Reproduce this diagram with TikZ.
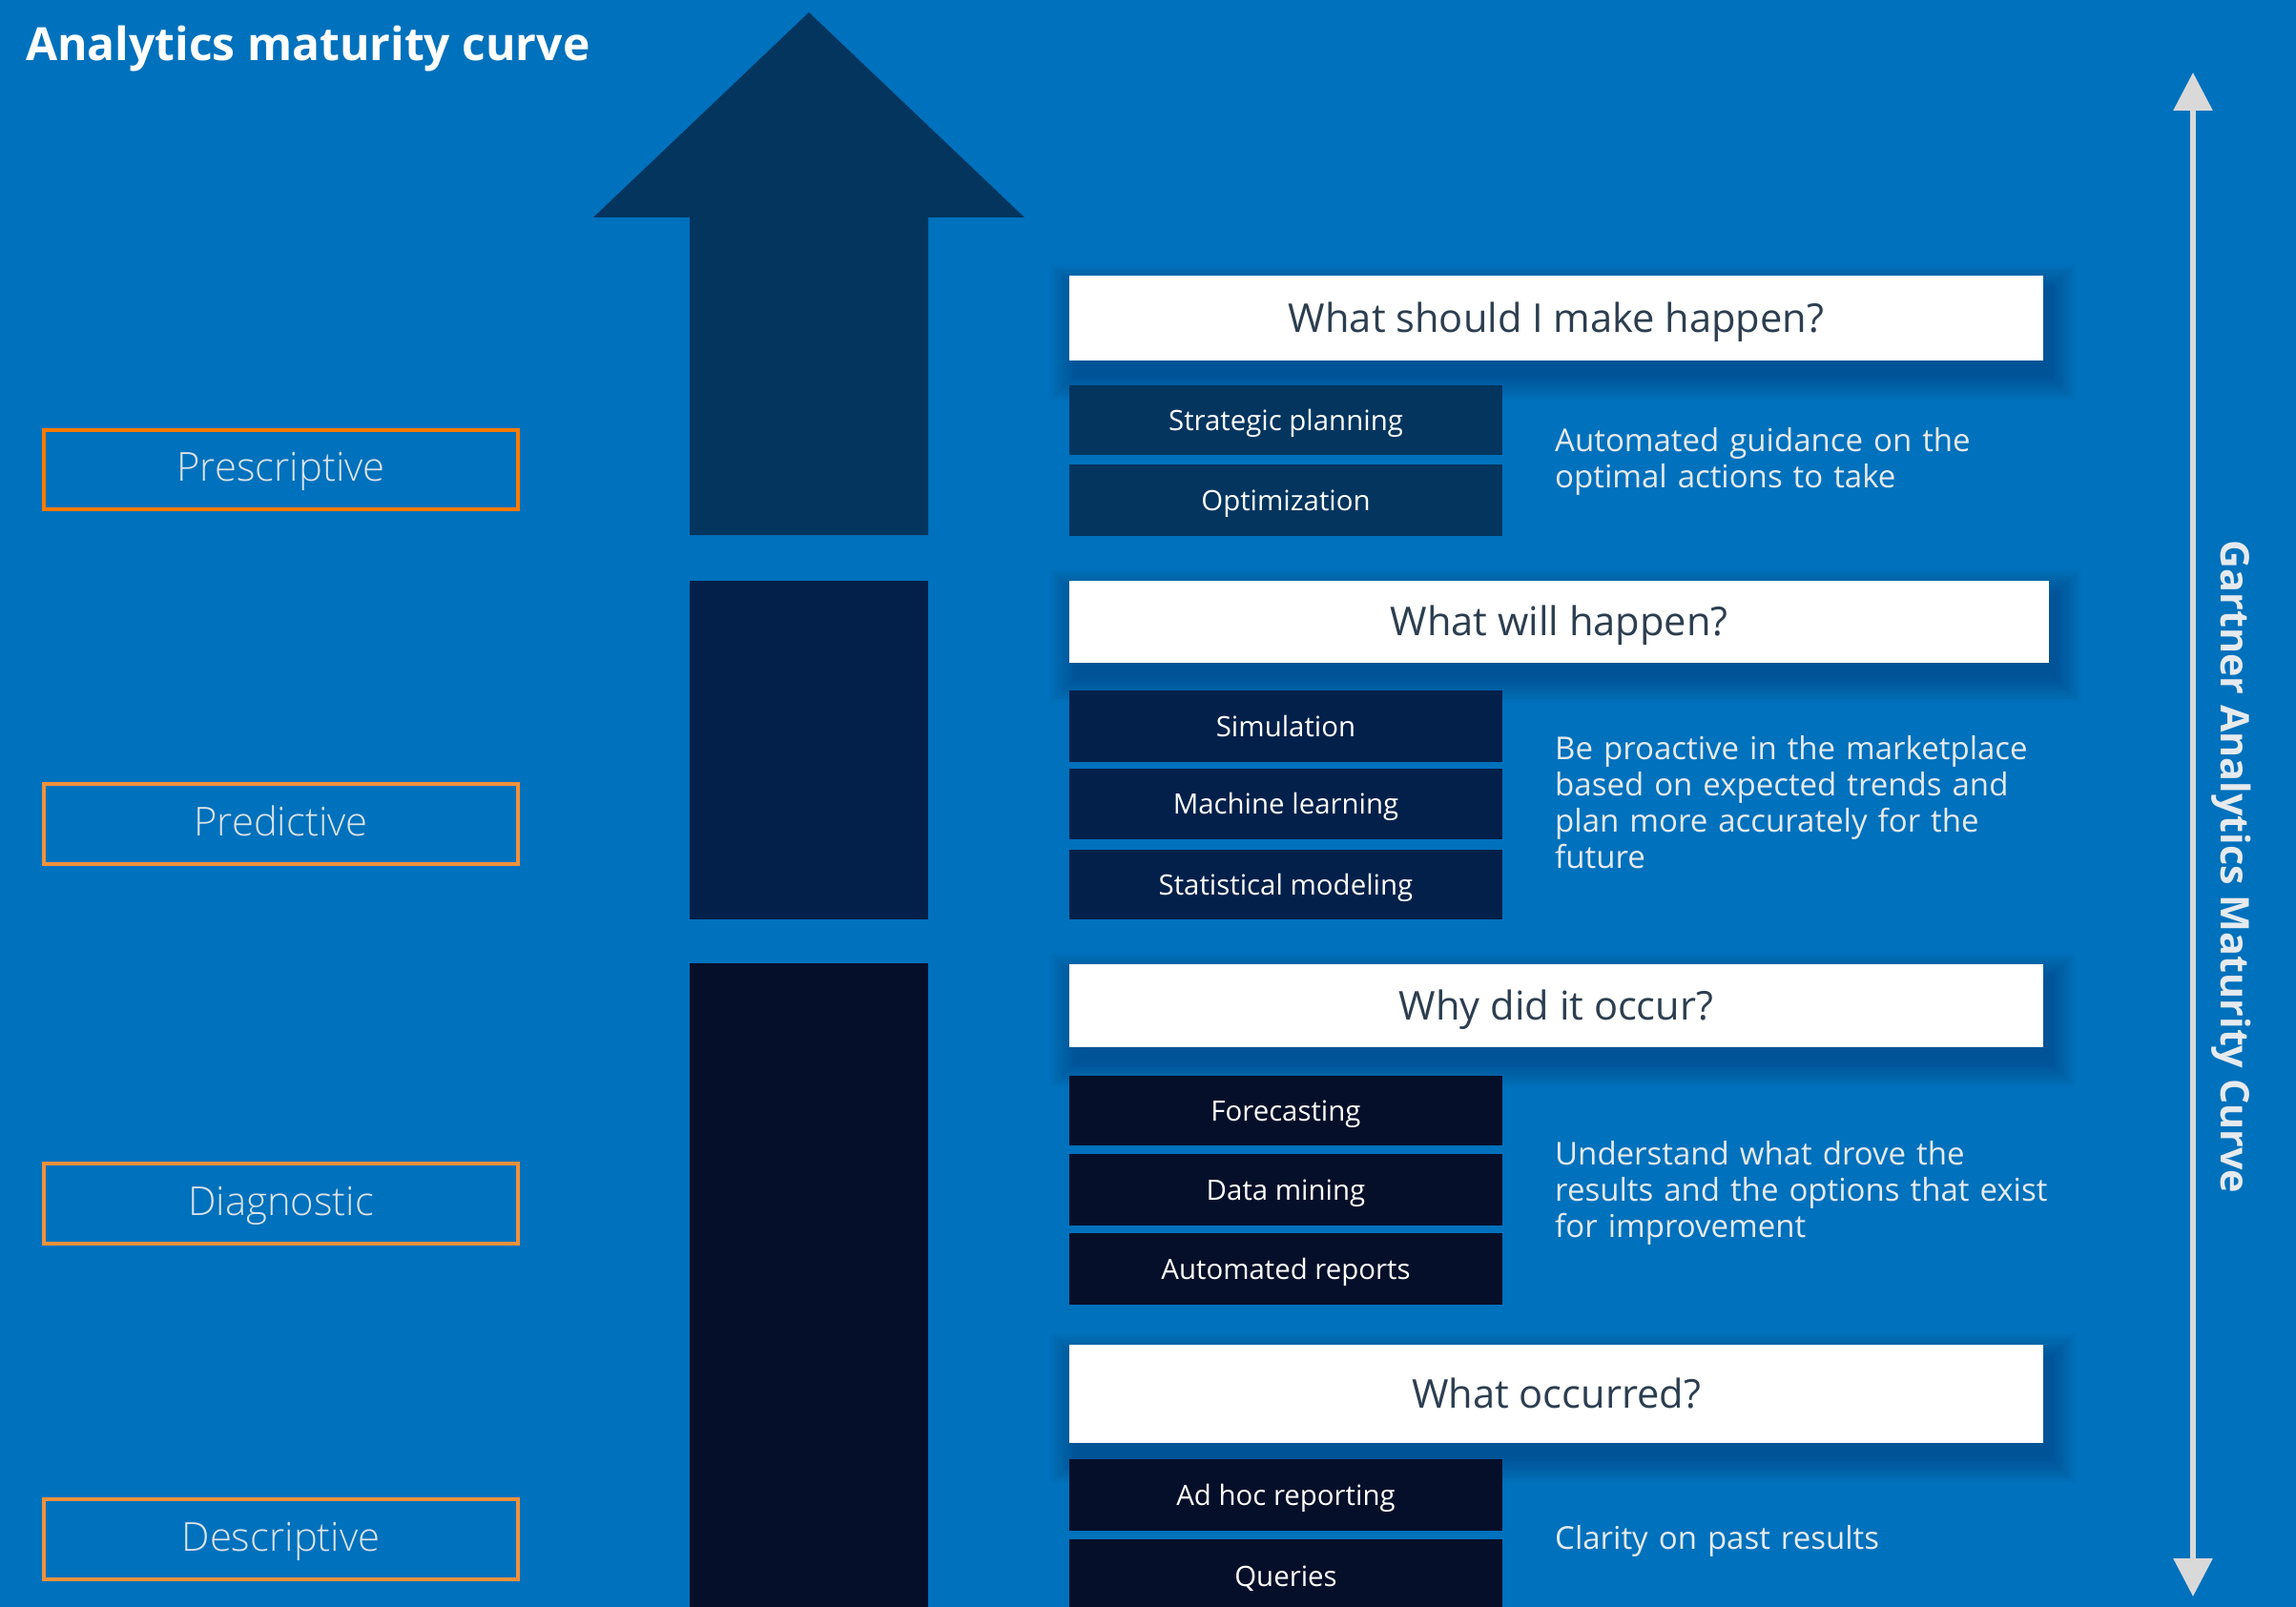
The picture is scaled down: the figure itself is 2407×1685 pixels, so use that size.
\documentclass[tikz,border=0pt]{standalone}
\usepackage{fontspec}
\usetikzlibrary{arrows.meta}
\setmainfont{Open Sans}
\IfFontExistsTF{Open Sans Light}
  {\newfontfamily\lightfont{Open Sans Light}}
  {\newfontfamily\lightfont{Open Sans}}

\definecolor{bgblue}{HTML}{0071BC}
\definecolor{arrowtop}{HTML}{03355F}
\definecolor{arrowmid}{HTML}{03204A}
\definecolor{arrowlow}{HTML}{060F29}
\definecolor{orangeA}{HTML}{FF7A00}
\definecolor{orangeB}{HTML}{F0913C}
\definecolor{labeltext}{HTML}{DCE3EA}
\definecolor{qtext}{HTML}{2C3E50}
\definecolor{desctext}{HTML}{E6EAEE}
\definecolor{axisgray}{HTML}{D9D9D9}

\begin{document}
\begin{tikzpicture}[x=1pt,y=-1pt,
  stagebox/.style={draw=#1, line width=4pt, minimum width=497pt, inner sep=0pt,
    text=labeltext, font=\lightfont\fontsize{41.8}{50}\selectfont,
    text height=30pt, text depth=6pt},
  itembox/.style={fill=#1, minimum width=454pt, inner sep=0pt, text=white,
    font=\fontsize{29.4}{34}\selectfont, text height=21pt, text depth=0pt},
  question/.style={fill=white, minimum width=1021pt, inner sep=0pt, text=qtext,
    font=\fontsize{41.6}{48}\selectfont, text height=29.5pt, text depth=0pt},
  desc/.style={anchor=base west, text width=580pt, align=left, inner sep=0pt,
    text=desctext, font=\fontsize{33}{38}\selectfont},
]
% canvas
\fill[bgblue] (0,0) rectangle (2407,1685);
\useasboundingbox (0,0) rectangle (2407,1685);
\clip (0,0) rectangle (2407,1685);

% title
\node[anchor=base west, inner sep=0pt, text=white,
  font=\bfseries\fontsize{48}{58}\selectfont] (title) at (27,64) {Analytics maturity curve};

% stepped maturity arrow
\fill[arrowtop] (723,561) -- (723,228) -- (622,228) -- (848,13) -- (1074,228)
  -- (973,228) -- (973,561) -- cycle;
\fill[arrowmid] (723,609) rectangle (973,964);
\fill[arrowlow] (723,1010) rectangle (973,1690);

% stage labels
\node[stagebox=orangeA, minimum height=83pt] (prescriptive) at (294.5,492.5) {Prescriptive};
\node[stagebox=orangeB, minimum height=84pt] (predictive) at (294.5,864) {Predictive};
\node[stagebox=orangeB, minimum height=84pt] (diagnostic) at (294.5,1262) {Diagnostic};
\node[stagebox=orangeB, minimum height=84pt] (descriptive) at (294.5,1614) {Descriptive};

% soft shadows under the question bars
\foreach \a/\b/\c/\d in {1121/289/2142/378, 1121/609/2148/695, 1121/1011/2142/1098, 1121/1410/2142/1513}{
  \foreach \k in {0,...,15}
    \fill[black, opacity=0.013] (\a+7-1.8*\k, \b+15-1.8*\k) rectangle (\c+7+1.8*\k, \d+15+1.8*\k);
}

% question bars
\node[question, minimum height=89pt] (q1) at (1631.5,333.5) {What should I make happen?};
\node[question, minimum width=1027pt, minimum height=86pt] (q2) at (1634.5,652) {What will happen?};
\node[question, minimum height=87pt] (q3) at (1631.5,1054.5) {Why did it occur?};
\node[question, minimum height=103pt] (q4) at (1631.5,1461.5) {What occurred?};

% techniques
\node[itembox=arrowtop, minimum height=73pt] (i11) at (1348,440.5) {Strategic planning};
\node[itembox=arrowtop, minimum height=75pt] (i12) at (1348,524.5) {Optimization};
\node[itembox=arrowmid, minimum height=75pt] (i21) at (1348,761.5) {Simulation};
\node[itembox=arrowmid, minimum height=74pt] (i22) at (1348,843) {Machine learning};
\node[itembox=arrowmid, minimum height=73pt] (i23) at (1348,927.5) {Statistical modeling};
\node[itembox=arrowlow, minimum height=73pt] (i31) at (1348,1164.5) {Forecasting};
\node[itembox=arrowlow, minimum height=75pt] (i32) at (1348,1247.5) {Data mining};
\node[itembox=arrowlow, minimum height=75pt] (i33) at (1348,1330.5) {Automated reports};
\node[itembox=arrowlow, minimum height=75pt] (i41) at (1348,1567.5) {Ad hoc reporting};
\node[itembox=arrowlow, minimum height=78pt] (i42) at (1348,1653) {Queries};

% descriptions
\node[desc] (d1) at (1630,473) {Automated guidance on the\\optimal actions to take};
\node[desc] (d2) at (1630,796) {Be proactive in the marketplace\\based on expected trends and\\plan more accurately for the\\future};
\node[desc] (d3) at (1630,1221) {Understand what drove the\\results and the options that exist\\for improvement};
\node[desc] (d4) at (1630,1624) {Clarity on past results};

% maturity axis
\coordinate (axtop) at (2299,76);
\coordinate (axbot) at (2299,1674);
\draw[axisgray, line width=6pt,
  {Triangle[width=40pt,length=40pt]}-{Triangle[width=40pt,length=40pt]}] (axtop) -- (axbot);
\node[rotate=-90, anchor=base, inner sep=0pt, text=desctext,
  font=\bfseries\fontsize{41.3}{50}\selectfont] (axislabel) at (2328,909) {Gartner Analytics Maturity Curve};
\end{tikzpicture}
\end{document}
